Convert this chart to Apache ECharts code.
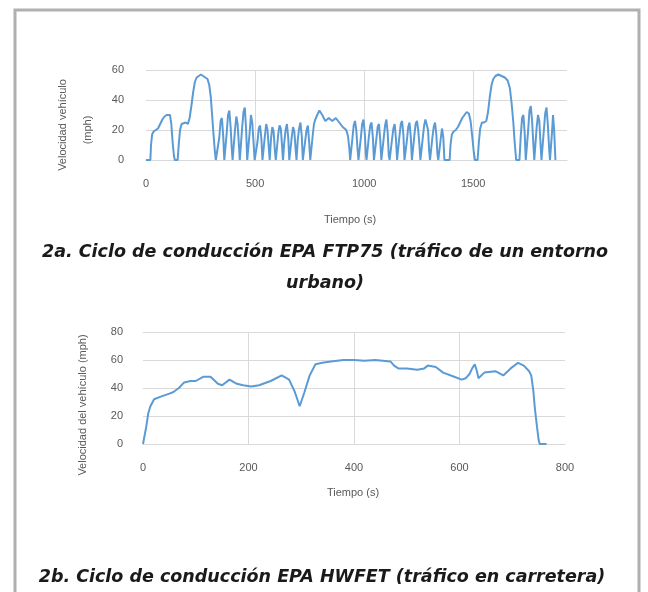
<!DOCTYPE html>
<html>
<head>
<meta charset="utf-8">
<script src="https://cdn.jsdelivr.net/npm/echarts@6/dist/echarts.min.js"></script>
<style>
html,body{margin:0;padding:0;background:#fff;}
#c{width:648px;height:592px;}
</style>
</head>
<body>
<div id="c"></div>
<script>
// ---- FTP75 (urban) : time (s) / speed (mph) ----
const ftpTime = [0,20,23,28,35,45,55,65,75,85,95,103,110,116,122,128,132,145,150,156,163,172,182,192,200,208,216,224,232,242,252,262,272,282,290,297,303,309,315,320,328,
330,336,342,348,354,359,364,370,376,382,388,393,397,402,408,414,420,426,430,435,441,447,453,459,464,469,475,481,487,493,498,505,
511,517,523,529,534,539,545,551,557,563,567,573,579,585,591,595,600,606,612,618,624,628,634,640,646,652,657,662,668,674,680,686,690,696,702,708,714,719,724,730,736,742,748,753,758,764,770,776,782,788,795,802,808,815,822,830,838,846,854,862,870,878,886,894,902,910,918,926,932,936,941,
946,952,958,964,970,974,979,985,991,997,1003,1008,1011,1016,1022,1028,1034,1040,1045,1050,1056,1062,1068,1074,1079,1084,1090,1096,1102,1108,1113,1117,1122,1128,1134,1140,1146,1151,1156,1162,1168,1174,1180,1185,1190,1196,1202,1208,1214,1219,1224,1230,1236,1242,1248,1254,1258,1263,1269,1275,1281,1287,1293,1298,1302,1307,1313,1319,1325,1331,1336,1340,1345,1351,1357,1363,1368,1372,
1392,1396,1402,1410,1420,1430,1440,1450,1460,1470,1480,1488,1496,1503,1508,1520,1526,1532,1540,1550,1560,1568,1576,1584,1592,1602,1615,1630,1645,1658,1668,1676,1684,1690,1697,1705,
1712,1718,1724,1730,1736,1741,1746,1752,1758,1764,1770,1776,1780,1785,1791,1797,1803,1809,1813,1818,1824,1830,1836,1842,1848,1852,1856,1861,1866,1871,1877];
const ftpSpeed = [0,0,10,17,19,20,21,24,27,29,30,31,30,24,12,3,0,0,10,20,24,25,25,24,28,36,45,52,55,56,57,56,55,54,50,42,30,18,7,0,0,
0,15,26,28,16,0,0,18,30,33,22,8,0,0,20,29,24,10,0,0,22,32,35,20,0,0,18,30,25,12,0,0,
12,21,23,14,0,0,16,24,20,8,0,14,22,19,6,0,0,17,23,21,9,0,12,20,24,15,0,0,15,22,19,7,0,14,21,25,16,0,0,13,20,23,12,0,0,16,24,27,29,31,33,34,30,28,26,27,28,27,26,27,28,27,25,24,22,21,20,16,8,0,0,
14,23,26,20,7,0,0,15,24,27,18,4,0,0,16,23,25,15,0,0,14,22,24,13,0,0,15,23,27,18,3,0,0,14,21,24,14,0,0,16,24,26,17,0,0,13,22,25,15,0,0,16,24,26,20,9,0,0,15,23,27,28,20,6,0,0,15,22,25,17,4,0,0,14,21,15,0,0,
0,10,17,19,20,22,25,28,30,32,31,26,15,5,0,0,12,21,25,25,26,32,42,50,54,56,57,56,55,53,48,38,25,12,0,0,
0,16,28,30,18,0,0,20,33,36,26,10,0,0,22,30,26,10,0,0,20,31,35,24,8,0,0,18,30,20,0];

// ---- HWFET (highway) : time (s) / speed (mph) ----
const hwTime = [0,3,6,10,14,21,35,50,57,68,78,90,100,114,128,142,150,164,178,190,205,220,242,263,277,288,297,306,316,327,340,356,380,400,420,440,469,476,484,500,520,533,540,555,569,590,604,612,619,624,629,633,636,647,668,683,697,711,722,732,736,740,743,747,750,752,765];
const hwSpeed = [0,0,12,22,27,32,34,36,37,40,44,45,45,48,48,43,42,46,43,42,41,42,45,49,46,37,27,37,49,57,58,59,60,60,59.5,60,59,56,54,54,53,54,56,55,51,48,46,47,50,54,57,52,47,51,52,49,54,58,56,52,49,38,25,12,3,0,0];

// ---- axis ticks ----
const topXTicks = {min:0, max:1930, interval:500};   // labels 0, 500, 1000, 1500
const topYTicks = {min:0, max:60, interval:20};      // 0, 20, 40, 60
const botXTicks = {min:0, max:800, interval:200};    // 0 ... 800
const botYTicks = {min:0, max:80, interval:20};      // 0 ... 80

// ---- texts ----
const topYTitle1 = 'Velocidad vehículo';
const topYTitle2 = '(mph)';
const botYTitle = 'Velocidad del vehículo (mph)';
const xTitle = 'Tiempo (s)';
const caption1a = '2a. Ciclo de conducción EPA FTP75 (tráfico de un entorno';
const caption1b = 'urbano)';
const caption2 = '2b. Ciclo de conducción EPA HWFET (tráfico en carretera)';

const ftpData = ftpTime.map((t,i)=>[t, ftpSpeed[i]]);
const hwData = hwTime.map((t,i)=>[t, hwSpeed[i]]);

const grey = '#595959';
const gridC = '#d9d9d9';
const lineC = '#5b9bd5';
const capFont = 'italic bold 17.5px "DejaVu Sans"';

function xAx(g, tk){
  return {type:'value', gridIndex:g, min:tk.min, max:tk.max, interval:tk.interval,
    axisLine:{show:true, lineStyle:{color:gridC}}, axisTick:{show:false},
    axisLabel:{color:grey, fontSize:11, fontFamily:'Liberation Sans', margin:18, showMaxLabel: g===1,
      formatter:(v)=>String(v)},
    splitLine:{show:true, showMinLine:false, showMaxLine:false, lineStyle:{color:gridC, width:1}}};
}
function yAx(g, tk, m){
  return {type:'value', gridIndex:g, min:tk.min, max:tk.max, interval:tk.interval,
    axisLine:{show:false}, axisTick:{show:false},
    axisLabel:{color:grey, fontSize:11, fontFamily:'Liberation Sans', margin:m},
    splitLine:{show:true, lineStyle:{color:gridC, width:1}}};
}
const txt = (x,y,t,opt)=>({type:'text', x:x, y:y, style:Object.assign({text:t, align:'center', verticalAlign:'middle', fill:grey, font:'11px "Liberation Sans"'}, opt||{})});

const chart = echarts.init(document.getElementById('c'), null, {renderer:'canvas'});
chart.setOption({
  animation:false,
  backgroundColor:'#fff',
  grid:[
    {left:146, top:70, width:421, height:90},
    {left:143, top:332, width:422, height:112}
  ],
  xAxis:[xAx(0, topXTicks), xAx(1, botXTicks)],
  yAxis:[yAx(0, topYTicks, 22), yAx(1, botYTicks, 20)],
  series:[
    {type:'line', xAxisIndex:0, yAxisIndex:0, data:ftpData, showSymbol:false, lineStyle:{color:lineC, width:2}, itemStyle:{color:lineC}},
    {type:'line', xAxisIndex:1, yAxisIndex:1, data:hwData, showSymbol:false, lineStyle:{color:lineC, width:2}, itemStyle:{color:lineC}}
  ],
  graphic:[
    {type:'rect', shape:{x:15, y:10, width:624, height:620}, style:{fill:'none', stroke:'#b0b0b0', lineWidth:3}},
    {type:'text', x:63, y:125, rotation:Math.PI/2, style:{text:topYTitle1, align:'center', verticalAlign:'middle', fill:grey, font:'11px "Liberation Sans"'}},
    {type:'text', x:88, y:130, rotation:Math.PI/2, style:{text:topYTitle2, align:'center', verticalAlign:'middle', fill:grey, font:'11px "Liberation Sans"'}},
    {type:'text', x:83, y:405, rotation:Math.PI/2, style:{text:botYTitle, align:'center', verticalAlign:'middle', fill:grey, font:'11px "Liberation Sans"'}},
    txt(350, 220, xTitle),
    txt(353, 493, xTitle),
    txt(325, 252, caption1a, {fill:'#1a1a1a', font:capFont}),
    txt(325, 283, caption1b, {fill:'#1a1a1a', font:capFont}),
    txt(322, 577, caption2, {fill:'#1a1a1a', font:capFont})
  ]
});
</script>
</body>
</html>
